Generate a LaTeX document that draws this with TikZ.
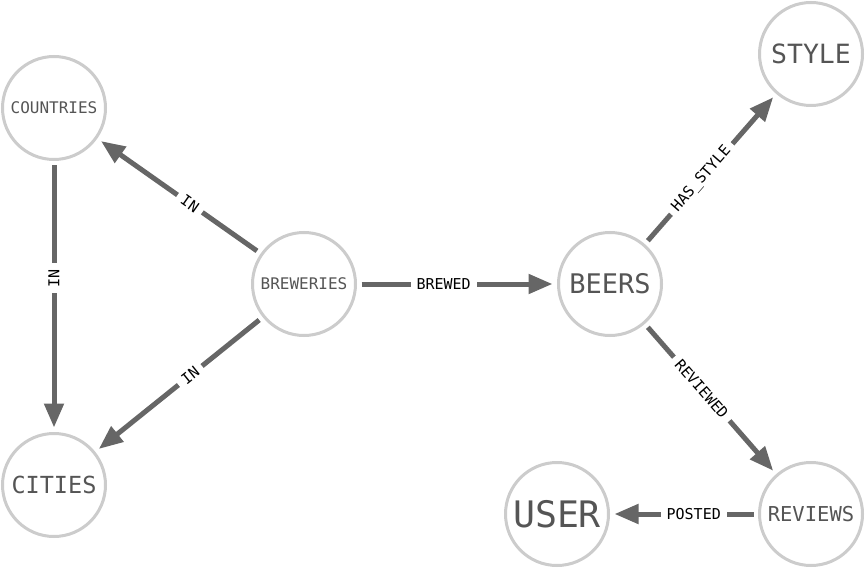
\documentclass[tikz,border=0pt]{standalone}
\usepackage{fontspec}
\setmonofont{DejaVu Sans Mono}
\usetikzlibrary{arrows.meta}
\definecolor{ringgray}{HTML}{CCCCCC}
\definecolor{relgray}{HTML}{666666}
\definecolor{labelgray}{HTML}{555555}
\tikzset{
  entity/.style={circle,draw=ringgray,line width=3pt,fill=white,minimum size=103pt,
    inner sep=0pt,outer sep=6pt,text=labelgray},
  rel/.style={line width=5pt,draw=relgray,-{Triangle[length=24pt,width=19pt]}},
  rellabel/.style={fill=white,text=black,inner xsep=6pt,inner ysep=2pt,
    font=\ttfamily\fontsize{15}{17}\selectfont,pos=0.43}
}
\newcommand{\fsz}[1]{\ttfamily\fontsize{#1}{#1}\selectfont}
\begin{document}
\begin{tikzpicture}[x=1pt,y=-1pt]
\useasboundingbox (0,0) rectangle (866,569);

% Nodes
\node[entity,font=\fsz{16}] (countries) at (54,108) {COUNTRIES};
\node[entity,font=\fsz{23.5}] (cities) at (54,485) {CITIES};
\node[entity,font=\fsz{16}] (breweries) at (304,284) {BREWERIES};
\node[entity,font=\fsz{27}] (beers) at (610,284) {BEERS};
\node[entity,font=\fsz{26.5}] (style) at (811,54) {STYLE};
\node[entity,font=\fsz{20.5}] (reviews) at (811,514) {REVIEWS};
\node[entity,font=\fsz{36.5}] (user) at (557,514) {USER};

% Relationships
\draw[rel] (breweries) -- (countries) node[rellabel,sloped] {IN};
\draw[rel] (breweries) -- (cities) node[rellabel,sloped] {IN};
\draw[rel] (countries) -- (cities) node[rellabel,rotate=90] {IN};
\draw[rel] (breweries) -- (beers) node[rellabel] {BREWED};
\draw[rel] (beers) -- (style) node[rellabel,sloped] {HAS\_STYLE};
\draw[rel] (beers) -- (reviews) node[rellabel,sloped] {REVIEWED};
\draw[rel] (reviews) -- (user) node[rellabel] {POSTED};
\end{tikzpicture}
\end{document}
